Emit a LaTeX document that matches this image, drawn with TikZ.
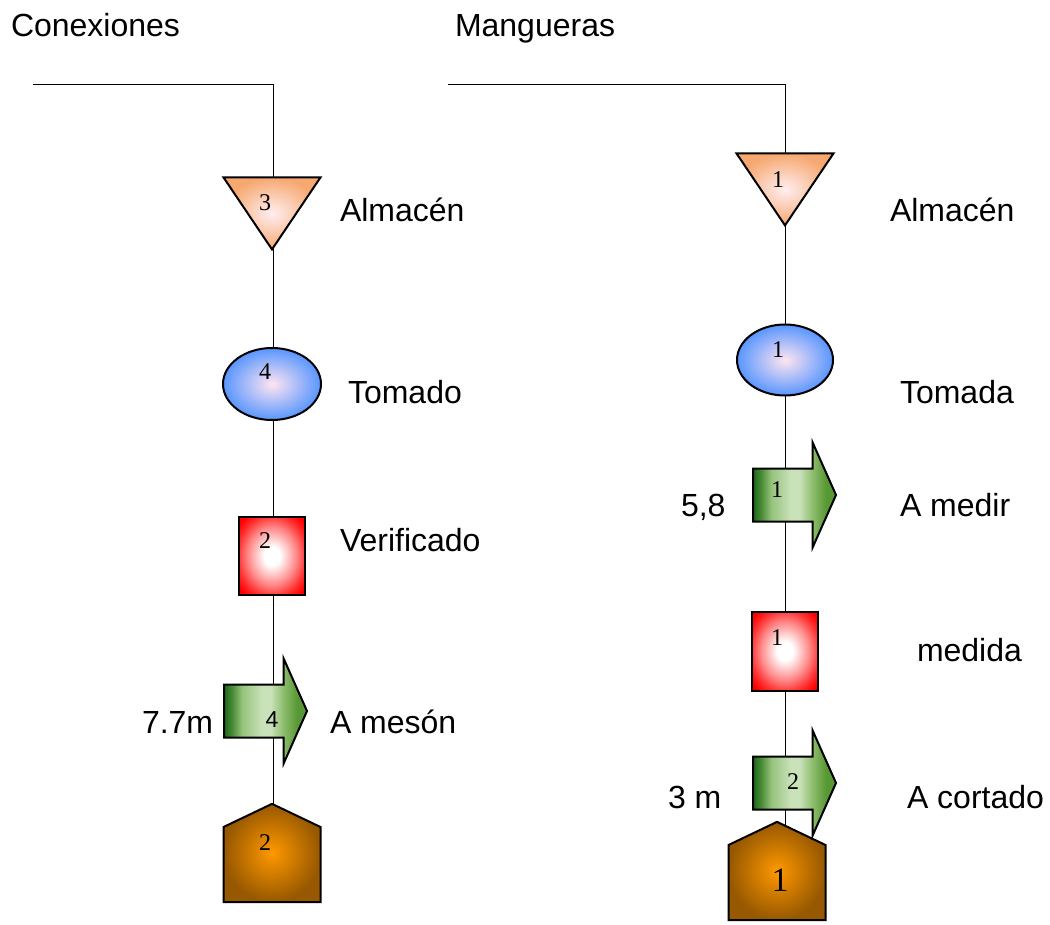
\documentclass[tikz,border=0pt]{standalone}
\usepackage{fontspec}
\setmainfont{Liberation Serif}
\setsansfont{Liberation Sans}
\usetikzlibrary{shapes.geometric,shapes.arrows,shapes.symbols,backgrounds}
\definecolor{almout}{RGB}{246,168,112}
\definecolor{almin}{RGB}{255,238,240}
\definecolor{opout}{RGB}{88,150,255}
\definecolor{opin}{RGB}{255,228,240}
\definecolor{insout}{RGB}{255,0,0}
\definecolor{trdark}{RGB}{25,105,25}
\definecolor{trdk}{RGB}{75,140,55}
\definecolor{trmid}{RGB}{150,195,125}
\definecolor{trlight}{RGB}{202,226,186}
\definecolor{trgreen}{RGB}{140,188,108}
\definecolor{trend}{RGB}{88,152,52}
\definecolor{depout}{RGB}{150,88,0}
\definecolor{depin}{RGB}{255,152,0}
\pgfdeclarehorizontalshading{trshade}{100bp}{color(0bp)=(trdark); color(25bp)=(trdark);
  color(30bp)=(trdk); color(36bp)=(trmid); color(48bp)=(trlight);
  color(53bp)=(trlight); color(61bp)=(trgreen); color(69bp)=(trend);
  color(100bp)=(trend)}
\pgfdeclareradialshading{insshade}{\pgfpoint{0bp}{0bp}}{color(0bp)=(white);
  color(6bp)=(white); color(18bp)=(insout!45); color(26bp)=(insout!80);
  color(32bp)=(insout); color(50bp)=(insout)}
\tikzset{
  lbl/.style={font=\sffamily\fontsize{32}{36}\selectfont, inner sep=0pt,
              text height=23pt, text depth=0pt, anchor=west},
  num/.style={font=\fontsize{24}{26}\selectfont, inner sep=0pt},
  alm/.style={draw, isosceles triangle, isosceles triangle stretches,
              shape border rotate=270, minimum width=97pt, minimum height=72pt,
              inner sep=0pt, anchor=apex,
              shade, inner color=almin, outer color=almout},
  oper/.style={draw, ellipse, inner sep=0pt,
               shade, inner color=opin, outer color=opout},
  insp/.style={draw, rectangle, inner sep=0pt, minimum width=66pt,
               minimum height=78pt, shade, shading=insshade},
  trans/.style={draw, single arrow, inner xsep=0pt, inner ysep=25.5pt,
                minimum height=83pt, single arrow head extend=26pt,
                single arrow tip angle=132, anchor=tail,
                shade, shading=trshade},
  depo/.style={draw, signal, signal to=north, signal pointer angle=129,
               inner sep=0pt, minimum width=97pt, minimum height=75pt,
               anchor=south, shade, inner color=depin, outer color=depout},
}
\begin{document}
\begin{tikzpicture}[x=1pt, y=-1pt, line width=2pt]
  \useasboundingbox (0,0) rectangle (1050,925);

  % Conexiones
  \node[lbl] (hc) at (10,25) {Conexiones};
  \coordinate (c0) at (33,84);
  \coordinate (c1) at (273,84);
  \node[alm] (alm1) at (272,252) {};
  \node[oper, minimum width=98pt, minimum height=72pt] (op1) at (272,384) {};
  \node[insp] (ins1) at (272,556) {};
  \node[trans] (tr1) at (223,711) {};
  \node[depo] (dep1) at (272,903) {};
  \node[num] at (265,203) {3};
  \node[num] at (265,372) {4};
  \node[num] at (265,541) {2};
  \node[num, font=\sffamily\fontsize{23}{26}\selectfont] at (272,720) {4};
  \node[num] at (265,843) {2};
  \node[lbl] at (339,210) {Almacén};
  \node[lbl] at (347,392) {Tomado};
  \node[lbl] at (339,540) {Verificado};
  \node[lbl] at (141,722) {7.7m};
  \node[lbl] at (329,722) {A mesón};

  % Mangueras
  \node[lbl] (hm) at (454,25) {Mangueras};
  \coordinate (m0) at (448,84);
  \coordinate (m1) at (785,84);
  \node[alm] (alm2) at (785,228) {};
  \node[oper, minimum width=96pt, minimum height=71pt] (op2) at (785,360) {};
  \node[trans] (tr2) at (752,495) {};
  \node[insp, minimum width=66pt, minimum height=79pt] (ins2) at (785,651) {};
  \node[depo] (dep2) at (777,921) {};
  \node[trans] (tr3) at (752,783) {};
  \node[num] at (778,180) {1};
  \node[num] at (778,350) {1};
  \node[num] at (777,490) {1};
  \node[num] at (777,638) {1};
  \node[num] at (793,782) {2};
  \node[num, font=\fontsize{34}{36}\selectfont] at (780,880) {1};
  \node[lbl] at (889,210) {Almacén};
  \node[lbl] at (899,392) {Tomada};
  \node[lbl] at (680,505) {5,8};
  \node[lbl] at (899,505) {A medir};
  \node[lbl] at (916,650) {medida};
  \node[lbl] at (667,797) {3 m};
  \node[lbl] at (906,797) {A cortado};

  \begin{scope}[on background layer]
    \draw (c0) -- (c1) -- (c1 |- dep1.center);
    \draw (m0) -- (m1) -- (m1 |- dep2.center);
  \end{scope}
\end{tikzpicture}
\end{document}
